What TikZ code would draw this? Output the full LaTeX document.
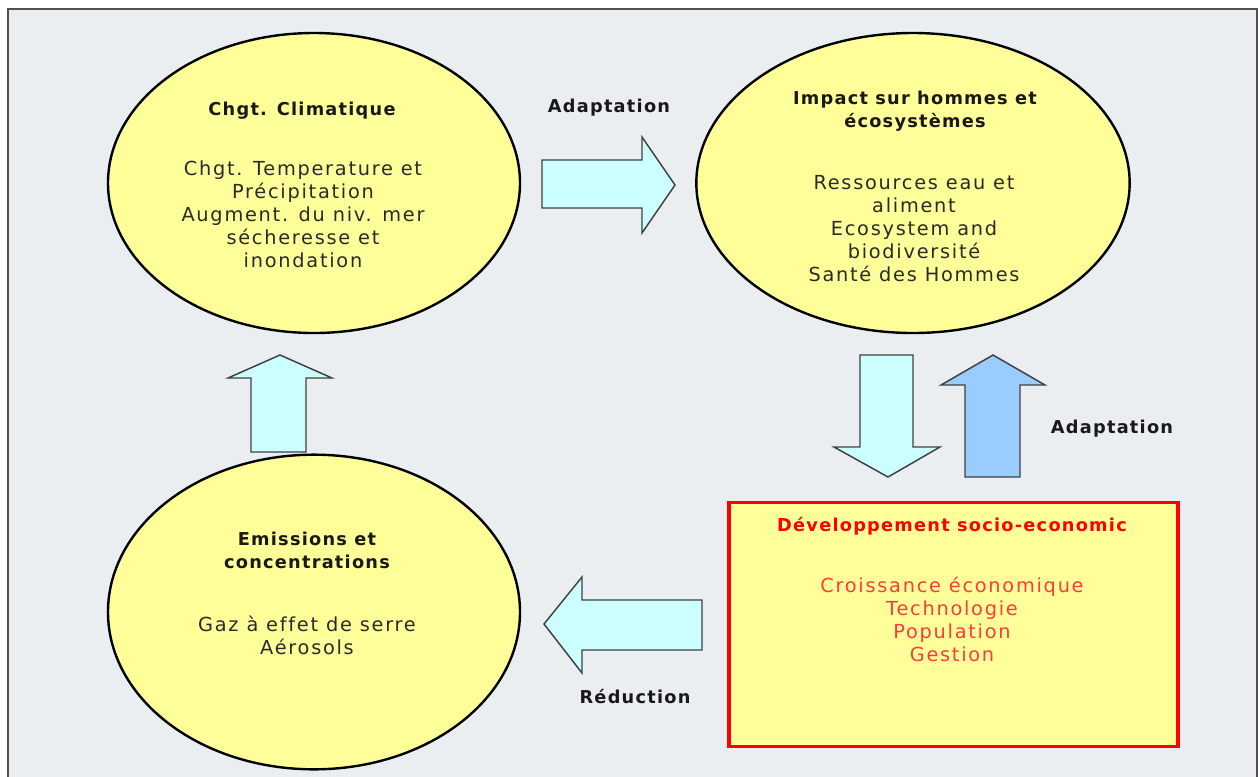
\documentclass[tikz,border=0pt]{standalone}
\usepackage{fontspec}
\setmainfont{DejaVu Sans}
\newfontfamily\bodyfont[LetterSpace=9,Ligatures=NoCommon]{DejaVu Sans}
\newfontfamily\titlefont[LetterSpace=7,Ligatures=NoCommon]{DejaVu Sans Bold}
\usetikzlibrary{shapes.geometric}
\definecolor{bgc}{HTML}{EAEEF0}
\definecolor{ellfill}{HTML}{FFFF99}
\definecolor{arrfill}{HTML}{CCFFFF}
\definecolor{arrblue}{HTML}{99CCFF}
\definecolor{framec}{HTML}{505050}
\definecolor{redtxt}{HTML}{FF3B3B}
\definecolor{bodytxt}{HTML}{2A2A2A}
\tikzset{
  bubble/.style={ellipse, draw=black, line width=1.8pt, fill=ellfill, inner sep=0pt},
  blockarrow/.style={draw=black!75, line width=1.1pt, fill=arrfill, line join=miter},
  ttl/.style={font=\titlefont\fontsize{13.3pt}{17.25pt}\selectfont, text=black!90, align=center, inner sep=0pt},
  body/.style={font=\bodyfont\fontsize{14.5pt}{17.25pt}\selectfont, text=bodytxt, align=center, inner sep=0pt},
  lbl/.style={font=\titlefont\fontsize{13.3pt}{15pt}\selectfont, text=black!90, inner sep=0pt},
}
\begin{document}
\begin{tikzpicture}[x=0.75pt,y=-0.75pt]
\useasboundingbox (0,0) rectangle (1258,776);
\fill[white] (0,0) rectangle (1258,776);
\fill[bgc] (8,9) rectangle (1257,780);
\draw[framec, line width=1.2pt] (8,790) -- (8,9) -- (1257,9) -- (1257,790);

% ellipses
\node[bubble, minimum width=309pt, minimum height=225pt] (cc) at (314,183) {};
\node[bubble, minimum width=325pt, minimum height=225pt] (imp) at (913,183) {};
\node[bubble, minimum width=309pt, minimum height=236pt] (em) at (314,612) {};

% rectangle
\node[draw=red, line width=2.6pt, fill=ellfill, minimum width=337pt, minimum height=183pt, inner sep=0pt] (dev) at (953.5,624.5) {};

% texts
\node[ttl] (cct) at (302,111) {Chgt. Climatique};
\node[body, anchor=north] (ccb) at (303,161) {Chgt. Temperature et\\Précipitation\\Augment. du niv. mer\\sécheresse et\\inondation};

\node[ttl, anchor=north] (impt) at (915,91) {Impact sur hommes et\\écosystèmes};
\node[body, anchor=north] (impb) at (914,175) {Ressources eau et\\aliment\\Ecosystem and\\biodiversité\\Santé des Hommes};

\node[ttl, anchor=north] (emt) at (307,532) {Emissions et\\concentrations};
\node[body, anchor=north] (emb) at (307,616) {Gaz à effet de serre\\Aérosols};

\node[ttl, text=red] (devt) at (952,526) {Développement socio-economic};
\node[body, anchor=north, text=redtxt] (devb) at (952,577) {Croissance économique\\Technologie\\Population\\Gestion};

% labels
\node[lbl] (l1) at (609,108) {Adaptation};
\node[lbl] (l2) at (1112,429) {Adaptation};
\node[lbl] (l3) at (635,697) {Réduction};

% block arrows
\draw[blockarrow] (542,160) -- (642,160) -- (642,137) -- (675,185) -- (642,233) -- (642,208) -- (542,208) -- cycle;
\draw[blockarrow] (251,452) -- (251,378) -- (228,378) -- (280,355) -- (332,378) -- (306,378) -- (306,452) -- cycle;
\draw[blockarrow] (860,355) -- (913,355) -- (913,447) -- (940,447) -- (888,477) -- (834,447) -- (860,447) -- cycle;
\draw[blockarrow, fill=arrblue] (965,477) -- (965,385) -- (941,385) -- (993,355) -- (1045,385) -- (1020,385) -- (1020,477) -- cycle;
\draw[blockarrow] (702,600) -- (582,600) -- (582,577) -- (544,624) -- (582,673) -- (582,650) -- (702,650) -- cycle;
\end{tikzpicture}
\end{document}
